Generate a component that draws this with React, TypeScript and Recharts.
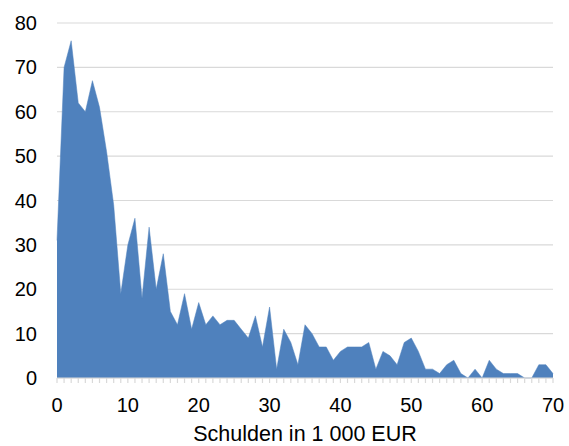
import React from 'react';
import { AreaChart, Area, XAxis, YAxis, CartesianGrid } from 'recharts';

const debtThousands: number[] = Array.from({ length: 71 }, (_, i) => i);
const counts: number[] = [
  31, 70, 76, 62, 60, 67, 61, 51, 39, 19,
  30, 36, 18, 34, 20, 28, 15, 12, 19, 11,
  17, 12, 14, 12, 13, 13, 11, 9, 14, 7,
  16, 2, 11, 8, 3, 12, 10, 7, 7, 4,
  6, 7, 7, 7, 8, 2, 6, 5, 3, 8,
  9, 6, 2, 2, 1, 3, 4, 1, 0, 2,
  0, 4, 2, 1, 1, 1, 0, 0, 3, 3,
  1,
];
const yTicks: number[] = [0, 10, 20, 30, 40, 50, 60, 70, 80];
const xTitle = 'Schulden in 1 000 EUR';

const data = debtThousands.map((x, i) => ({ x, count: counts[i] }));

const FONT = '"Liberation Sans", Arial, sans-serif';

export default function App() {
  return (
    <div style={{ position: 'absolute', left: 0, top: 0 }}>
      <AreaChart
        width={569}
        height={446}
        data={data}
        margin={{ top: 23, right: 16, left: 0, bottom: 0 }}
      >
        <CartesianGrid vertical={false} stroke="#d9d9d9" strokeWidth={1.2} />
        <XAxis
          dataKey="x"
          type="number"
          domain={[0, 70]}
          ticks={debtThousands}
          interval={0}
          tickFormatter={(v: number) => (v % 10 === 0 ? String(v) : '')}
          height={68}
          axisLine={{ stroke: '#d9d9d9', strokeWidth: 1.2 }}
          tickLine={{ stroke: '#d9d9d9', strokeWidth: 1.2 }}
          tickSize={5}
          tickMargin={15}
          tick={{ fill: '#000', fontSize: 20, fontFamily: FONT }}
          label={{
            value: xTitle,
            position: 'insideBottom',
            offset: 5,
            fill: '#000',
            fontSize: 21.5,
            fontFamily: FONT,
          }}
        />
        <YAxis
          domain={[0, 80]}
          ticks={yTicks}
          interval={0}
          width={57}
          axisLine={false}
          tickLine={false}
          tickSize={0}
          tickMargin={20}
          tick={{ fill: '#000', fontSize: 20, fontFamily: FONT }}
        />
        <Area
          type="linear"
          dataKey="count"
          fill="#4f81bd"
          fillOpacity={1}
          stroke="#4f81bd"
          strokeWidth={0.5}
          isAnimationActive={false}
          dot={false}
          activeDot={false}
        />
      </AreaChart>
    </div>
  );
}
